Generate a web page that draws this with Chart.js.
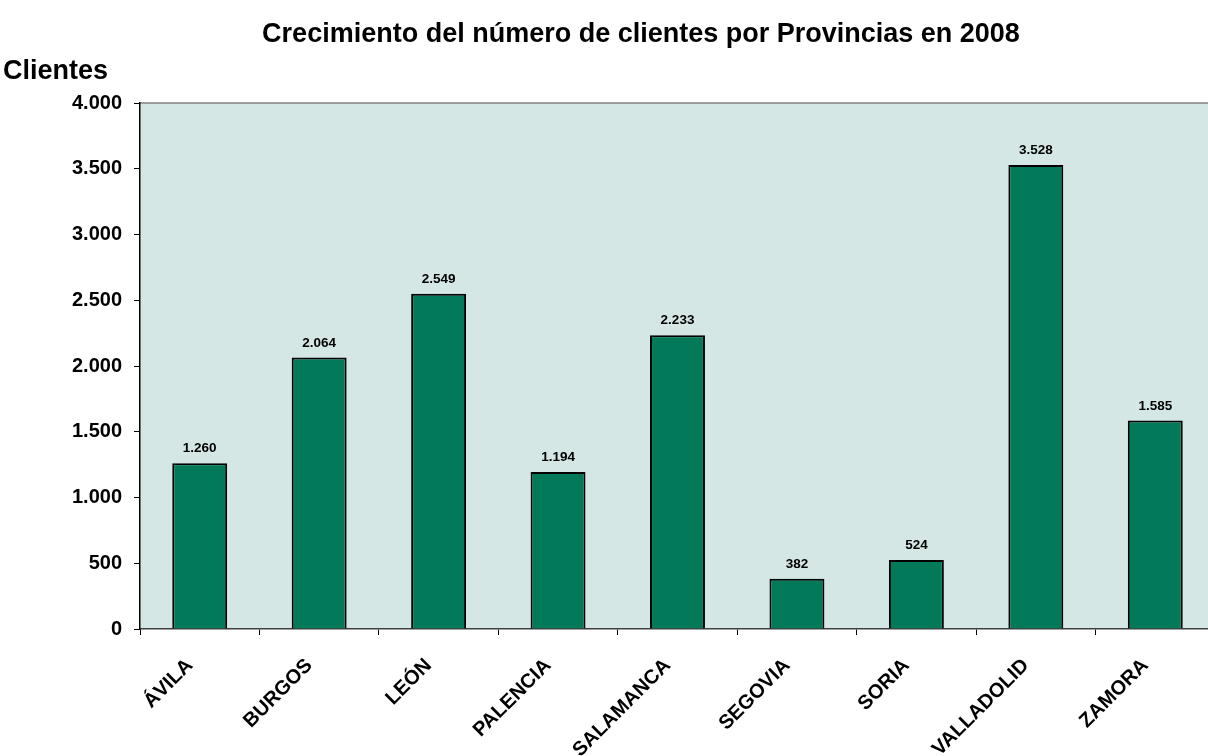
<!DOCTYPE html>
<html>
<head>
<meta charset="utf-8">
<script src="https://cdn.jsdelivr.net/npm/chart.js@4.4.0/dist/chart.umd.min.js"></script>
<style>
  html, body { margin: 0; padding: 0; background: #fff; overflow: hidden; }
  .chart-container { width: 1222px; height: 756px; position: relative; }
</style>
</head>
<body>
<div class="chart-container">
  <canvas id="chart"></canvas>
</div>
<script>
// Datos: crecimiento de clientes por provincia (2008)
const provincias = ['ÁVILA', 'BURGOS', 'LEÓN', 'PALENCIA', 'SALAMANCA', 'SEGOVIA', 'SORIA', 'VALLADOLID', 'ZAMORA'];
const clientes = [1260, 2064, 2549, 1194, 2233, 382, 524, 3528, 1585];
const yTicks = [0, 500, 1000, 1500, 2000, 2500, 3000, 3500, 4000];

const FONT = 'Arial, "Liberation Sans", sans-serif';
const fmt = v => v.toString().replace(/\B(?=(\d{3})+(?!\d))/g, '.');

// fondo del area de trazado + textos fijos
const decor = {
  id: 'decor',
  beforeDraw(chart) {
    const { ctx, chartArea: a } = chart;
    ctx.save();
    ctx.fillStyle = '#D4E7E5';
    ctx.fillRect(a.left, a.top, a.right - a.left, a.bottom - a.top);
    ctx.strokeStyle = '#808080';
    ctx.lineWidth = 1.5;
    ctx.beginPath();
    ctx.moveTo(a.left, a.top);
    ctx.lineTo(a.right, a.top);
    ctx.stroke();
    ctx.restore();
  },
  afterDraw(chart) {
    const { ctx } = chart;
    ctx.save();
    ctx.fillStyle = '#000';
    ctx.textBaseline = 'alphabetic';
    ctx.font = 'bold 27px ' + FONT;
    ctx.textAlign = 'center';
    ctx.fillText('Crecimiento del número de clientes por Provincias en 2008', 641, 42);
    ctx.textAlign = 'left';
    ctx.fillText('Clientes', 3, 79);

    // etiquetas de valor
    const meta = chart.getDatasetMeta(0);
    ctx.font = 'bold 13.5px ' + FONT;
    ctx.textAlign = 'center';
    meta.data.forEach((bar, i) => {
      ctx.fillText(fmt(clientes[i]), bar.x, bar.y - 11);
    });
    ctx.restore();
  }
};

new Chart(document.getElementById('chart'), {
  type: 'bar',
  data: {
    labels: provincias,
    datasets: [{
      data: clientes,
      backgroundColor: '#027A5A',
      borderColor: '#000',
      borderWidth: 2,
      categoryPercentage: 1,
      barPercentage: 0.46,
    }],
  },
  options: {
    responsive: true,
    maintainAspectRatio: false,
    animation: false,
    layout: { padding: { top: 103, right: 7, left: 0, bottom: 0 } },
    plugins: { legend: { display: false }, tooltip: { enabled: false } },
    scales: {
      x: {
        grid: { display: true, drawOnChartArea: false, drawTicks: true, tickLength: 6, color: '#000', offset: true },
        border: { color: '#404040', width: 1.5 },
        afterFit(axis) { axis.height = 127; },
        ticks: {
          color: '#000',
          font: { family: FONT, size: 20, weight: 'bold' },
          minRotation: 45,
          maxRotation: 45,
          padding: 19,
          labelOffset: -10,
        },
      },
      y: {
        min: 0,
        max: 4000,
        afterBuildTicks(axis) { axis.ticks = yTicks.map(v => ({ value: v })); },
        grid: { display: true, drawOnChartArea: false, drawTicks: true, tickLength: 6, color: '#000' },
        border: { color: '#000', width: 1.5 },
        afterFit(axis) { axis.width = 140; },
        ticks: {
          color: '#000',
          font: { family: FONT, size: 20, weight: 'bold' },
          padding: 12,
          callback: v => fmt(v),
        },
      },
    },
  },
  plugins: [decor],
});
</script>
</body>
</html>
